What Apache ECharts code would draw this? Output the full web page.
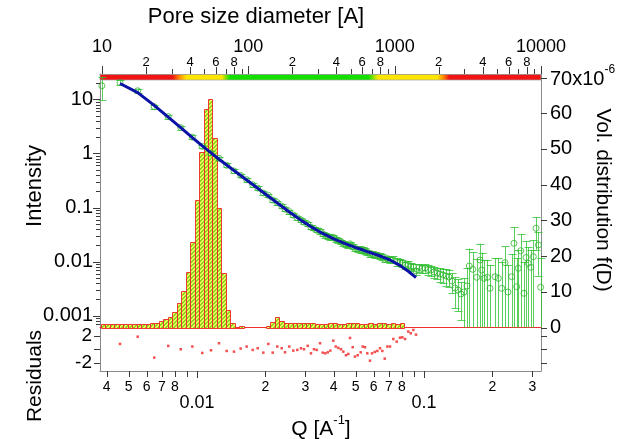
<!DOCTYPE html>
<html><head><meta charset="utf-8">
<script src="https://cdn.jsdelivr.net/npm/echarts@6/dist/echarts.min.js"></script>
<style>html,body{margin:0;padding:0;background:#fff}#c{width:617px;height:439px}</style>
</head><body><div id="c"></div>
<script>
// ---------------- data ----------------
// Q points inside the fit range [1/A]
const qFit = [0.00458,0.00548,0.00648,0.00747,0.00848,0.00954,0.01055,0.01153,0.01250,0.01351,
  0.01455,0.01557,0.01655,0.01759,0.01851,0.01960,0.02062,0.02155,0.02258,0.02361,
  0.02442,0.02550,0.02656,0.02766,0.02871,0.02960,0.03073,0.03178,0.03276,0.03367,
  0.03483,0.03579,0.03675,0.03766,0.03866,0.03985,0.04083,0.04193,0.04309,0.04411,
  0.04534,0.04640,0.04721,0.04852,0.04966,0.05104,0.05261,0.05370,0.05497,0.05626,
  0.05782,0.05901,0.06066,0.06228,0.06401,0.06551,0.06714,0.06893,0.07084,0.07325,
  0.07581,0.07841,0.08025,0.08248,0.08528,0.08739,0.08974,0.09222];
// model intensity (blue line)
const iFit = [19.60,13.30,7.714,4.688,2.999,1.967,1.382,1.026,0.781,0.6105,
  0.4830,0.3904,0.3224,0.2662,0.2264,0.1894,0.1618,0.1405,0.1211,0.1052,
  0.0947,0.0826,0.0733,0.0651,0.0582,0.0537,0.0485,0.0442,0.0411,0.0384,
  0.0352,0.0333,0.0314,0.0299,0.0284,0.0267,0.0256,0.0243,0.0231,0.02226,
  0.02124,0.02044,0.01984,0.01910,0.01838,0.01769,0.01695,0.01646,0.01584,0.01530,
  0.01473,0.01430,0.01376,0.01324,0.01269,0.01222,0.01171,0.01122,0.01071,0.00992,
  0.00915,0.00847,0.00791,0.00730,0.00662,0.00610,0.00558,0.00508];
// measured intensity inside the fit range
const iMeasFit = [20.3,14.4,7.33,4.79,3.00,2.00,1.35,1.017,0.812,0.603,
  0.475,0.392,0.328,0.264,0.2285,0.185,0.1675,0.1377,0.1233,0.1062,
  0.0931,0.0840,0.0725,0.0647,0.0587,0.0537,0.0495,0.0431,0.0411,0.0382,
  0.0366,0.0327,0.0306,0.0294,0.0281,0.0282,0.0261,0.0245,0.0231,0.0219,
  0.0205,0.0199,0.0213,0.0193,0.0175,0.0170,0.0166,0.0167,0.0160,0.0149,
  0.0137,0.0139,0.0135,0.0131,0.0127,0.0121,0.0110,0.0114,0.0109,0.0109,
  0.00995,0.0098,0.00934,0.00851,0.00884,0.0081,0.0080,0.0067];
const errPctFit = [10,10,8,8,8,8,8,8,8,8, 8,8,8,8,8,8,8,8,8,8, 8,8,8,8,8,8,8,8,8,8,
  10,10,10,10,10,10,10,10,10,10, 10,10,10,10,10,12,12,12,12,12, 12,12,12,12,12,12,12,12,12,15, 15,15,15,15,15,15,15,15];
// points outside the fit range
const qLow = [0.00381];
const iLow = [17.8];
const errPctLow = [46];
const qHigh = [0.0951,0.0980,0.1010,0.1041,0.1073,0.1107,0.1141,0.1176,0.1212,0.1250,
  0.1288,0.1328,0.1369,0.1411,0.1455,0.1500,0.1546,
  0.1583,0.1639,0.1707,0.1765,0.1795,0.1837,0.1901,0.1953,0.2055,0.2125,
  0.2199,0.2274,0.2344,0.2433,0.2491,0.2560,0.2602,0.2667,0.2758,0.2814,
  0.2881,0.2951,0.3030,0.3113,0.3193,0.3265];
const iHigh = [0.00778,0.00745,0.00762,0.00715,0.00700,0.00643,0.00616,0.00590,0.00565,0.00542,
  0.00519,0.00438,0.00325,0.00299,0.00252,0.00274,0.00354,
  0.00830,0.00721,0.00513,0.01071,0.00700,0.00491,0.00513,0.00321,0.00526,0.00491,
  0.00321,0.00955,0.00274,0.00526,0.02178,0.00344,0.00752,0.01590,0.00259,0.01191,
  0.00931,0.00785,0.01233,0.0413,0.02028,0.00335];
const errPctHigh = [16,16,18,21,21,23,24,29,28,35,35,41,58,60,67,80,116,
  110,105,120,100,110,115,110,168,122,138,206,100,215,163,100,238,118,100,278,100,
  100,108,100,60,73,248];
// normalized residuals (fit range)
const residuals = [0.78,1.85,-1.23,0.49,0,0.4,-0.54,-0.15,0.88,-0.25,
  -0.35,0.1,0.4,-0.1,0.15,-0.5,0.78,-0.5,0.4,0.15,
  -0.45,0.4,-0.2,-0.1,0.15,0,0.5,-0.6,0,-0.1,
  0.88,-0.5,-0.6,-0.45,-0.2,1.26,0.4,0.2,0,-0.35,
  -0.88,-0.69,1.66,0.3,-1.08,-0.88,-0.45,0.4,0.3,-0.6,
  -1.68,-0.6,-0.4,-0.25,0.15,-0.25,-1.38,0.4,0.4,1.51,
  1.12,1.7,1.76,1.51,2.6,2.35,2.84,2.15];
// size distribution: bin centres (pore diameter, A) and volume distribution (x1e-6)
const poreD = [10.19,10.93,11.73,12.58,13.50,14.48,15.53,16.66,17.87,19.16,
  20.56,22.05,23.65,25.37,27.21,29.19,31.31,33.58,36.02,38.64,
  41.44,44.45,47.69,51.15,54.86,58.85,63.12,67.71,72.62,77.90,
  83.56,89.63,96.13,103.1,110.6,118.6,127.3,136.5,146.4,157.1,
  168.5,180.7,193.8,207.9,223.0,239.2,256.6,275.2,295.2,316.6,
  339.6,364.3,390.8,419.1,449.6,482.3,517.3,554.9,595.2,638.4,
  684.8,734.5,787.9,845.1,906.5,972.3,1043,1119];
const volDist = [0.9,0.9,0.9,0.9,0.9,0.9,0.9,0.9,1.0,1.0,
  1.0,1.2,1.3,1.9,2.3,3.0,4.4,6.8,10.3,15.6,
  24.0,35.7,49.2,61.1,64.0,53.0,33.4,15.3,4.9,1.35,
  0.15,0.4,0,0,0,0,0,0.4,1.6,2.85,
  1.9,1.2,1.35,1.35,1.2,1.2,1.35,1.2,1.0,1.0,
  1.0,1.35,1.2,1.0,1.0,1.35,1.4,1.2,1.1,1.0,
  1.35,1.0,1.2,1.4,0.9,1.2,0.9,1.35];
// validity band along pore size axis (colour change positions, A)
const bandD = [30.5,34,38,66,75,660,770,1950,2140,2350];

// tick values and labels
const qMajorTicks = [0.01,0.1], qMajorLabels = ['0.01','0.1'];
const qMinorTicks = [0.004,0.005,0.006,0.007,0.008,0.009,0.02,0.03,0.04,0.05,0.06,0.07,0.08,0.09,0.2,0.3];
const qMinorLabels = ['4','5','6','7','8','','2','3','4','5','6','7','8','','2','3'];
const dMajorTicks = [10,100,1000,10000], dMajorLabels = ['10','100','1000','10000'];
const dMinorTicks = [20,30,40,50,60,70,80,90,200,300,400,500,600,700,800,900,2000,3000,4000,5000,6000,7000,8000,9000];
const dMinorLabels = ['2','','4','','6','','8','','2','','4','','6','','8','','2','','4','','6','','8',''];
const iMajorTicks = [0.001,0.01,0.1,1,10], iMajorLabels = ['0.001','0.01','0.1','1','10'];
const iMinorTicks = [0.0007,0.0008,0.0009,0.002,0.003,0.004,0.005,0.006,0.007,0.008,0.009,
  0.02,0.03,0.04,0.05,0.06,0.07,0.08,0.09,0.2,0.3,0.4,0.5,0.6,0.7,0.8,0.9,
  2,3,4,5,6,7,8,9,20];
const volTicks = [0,10,20,30,40,50,60,70], volLabels = ['0','10','20','30','40','50','60','70x10'];
const volExp = '-6';
const resTicks = [-2,0,2], resLabels = ['-2','','2'];

// axis ranges
const Q_MIN = 0.003739, Q_MAX = 0.3276;
const D_MIN = 9.69, D_MAX = 10000;
const I_MIN = 0.000605, I_MAX = 29.4;
const V_MAX = 71;
const R_MIN = -3.2, R_MAX = 3.2;

// ---------------- drawing ----------------
const FONT = "'Liberation Sans', Arial, Helvetica, sans-serif";
const AXIS = '#8a8a8a', TICK = '#3a3a3a';

function makeHatch() {
  const n = 4, c = document.createElement('canvas');
  c.width = n; c.height = n;
  const ctx = c.getContext('2d'), img = ctx.createImageData(n, n);
  for (let y = 0; y < n; y++) for (let x = 0; x < n; x++) {
    const g = ((x + y) % n) < 2, k = (y * n + x) * 4;
    const col = g ? [140, 212, 30] : [236, 250, 96];
    img.data[k] = col[0]; img.data[k + 1] = col[1]; img.data[k + 2] = col[2]; img.data[k + 3] = 255;
  }
  ctx.putImageData(img, 0, 0);
  return c;
}
const hatch = { image: makeHatch(), repeat: 'repeat' };

function tickSeries(o) {
  const vals = o.major.concat(o.minor);
  const labs = o.majorLabels.concat(o.minorLabels);
  const isMaj = o.major.map(() => true).concat(o.minor.map(() => false));
  return {
    type: 'custom', xAxisIndex: o.xi, yAxisIndex: o.yi, silent: true, z: 20, clip: false,
    data: vals.map(v => o.orient === 'h' ? [v, o.ref] : [o.ref, v]),
    renderItem(params, api) {
      const cs = params.coordSys, i = params.dataIndex;
      const lab = labs[i] || '', major = isMaj[i];
      const pt = api.coord([api.value(0), api.value(1)]);
      const len = major ? o.majorLen : (lab ? o.labLen : o.minorLen);
      const ch = [];
      if (o.orient === 'h') {
        const x = Math.round(pt[0]) + 0.5;
        const base = o.side === 'top' ? cs.y : cs.y + cs.height;
        const dir = o.side === 'top' ? -1 : 1;
        ch.push({ type: 'line', shape: { x1: x, y1: base, x2: x, y2: base + dir * len }, style: { stroke: TICK, lineWidth: 1 } });
        if (lab) ch.push({ type: 'text', style: {
          text: lab, x: pt[0], y: base + dir * (major ? o.majorOff : o.minorOff),
          align: 'center', verticalAlign: 'middle',
          fontSize: major ? o.majorSize : o.minorSize, fontFamily: FONT, fill: '#000' } });
      } else {
        const y = Math.round(pt[1]) + 0.5;
        const left = o.side === 'left';
        const base = left ? cs.x : cs.x + cs.width;
        const dir = left ? -1 : 1;
        ch.push({ type: 'line', shape: { x1: base, y1: y, x2: base + dir * len, y2: y }, style: { stroke: TICK, lineWidth: 1 } });
        if (lab) {
          const st = { text: lab, x: base + dir * o.labelOff, y: pt[1],
            align: left ? 'right' : 'left', verticalAlign: 'middle',
            fontSize: o.labelSize, fontFamily: FONT, fill: '#000' };
          if (o.richLast && i === o.major.length - 1) {
            st.text = '{n|' + lab + '}{s|' + o.richLast + '}';
            st.rich = { n: { fontSize: o.labelSize, fontFamily: FONT, fill: '#000', verticalAlign: 'bottom', lineHeight: 26 },
                        s: { fontSize: 12, fontFamily: FONT, fill: '#000', verticalAlign: 'top', lineHeight: 26 } };
            st.y = pt[1] - 1;
          }
          ch.push({ type: 'text', style: st });
        }
      }
      return { type: 'group', children: ch };
    }
  };
}

const qData = qLow.concat(qFit, qHigh);
const iData = iLow.concat(iMeasFit, iHigh);
const errPct = errPctLow.concat(errPctFit, errPctHigh);

const hiddenTicks = { axisTick: { show: false }, axisLabel: { show: false }, splitLine: { show: false } };
const option = {
  animation: false,
  backgroundColor: '#fff',
  grid: [
    { left: 100, top: 74, width: 441, height: 253.5 },
    { left: 100, top: 327.5, width: 441, height: 43.5 }
  ],
  xAxis: [
    Object.assign({ gridIndex: 0, type: 'log', logBase: 10, min: Q_MIN, max: Q_MAX, position: 'bottom',
      axisLine: { show: true, onZero: false, lineStyle: { color: '#ee3030', width: 1 } } }, hiddenTicks),
    Object.assign({ gridIndex: 0, type: 'log', logBase: 10, min: D_MIN, max: D_MAX, position: 'top',
      axisLine: { show: true, onZero: false, lineStyle: { color: AXIS } } }, hiddenTicks),
    Object.assign({ gridIndex: 1, type: 'log', logBase: 10, min: Q_MIN, max: Q_MAX, position: 'bottom',
      axisLine: { show: true, onZero: false, lineStyle: { color: AXIS } } }, hiddenTicks)
  ],
  yAxis: [
    Object.assign({ gridIndex: 0, type: 'log', logBase: 10, min: I_MIN, max: I_MAX, position: 'left',
      axisLine: { show: true, onZero: false, lineStyle: { color: AXIS } } }, hiddenTicks),
    Object.assign({ gridIndex: 0, type: 'value', min: 0, max: V_MAX, position: 'right',
      axisLine: { show: true, onZero: false, lineStyle: { color: AXIS } } }, hiddenTicks),
    Object.assign({ gridIndex: 1, type: 'value', min: R_MIN, max: R_MAX, position: 'left',
      axisLine: { show: true, onZero: false, lineStyle: { color: AXIS } } }, hiddenTicks),
    Object.assign({ gridIndex: 1, type: 'value', min: R_MIN, max: R_MAX, position: 'right',
      axisLine: { show: true, onZero: false, lineStyle: { color: AXIS } } }, hiddenTicks)
  ],
  graphic: [
    { type: 'text', x: 256, y: 17, style: { text: 'Pore size diameter [A]', fontSize: 22, fontFamily: FONT, fill: '#000', align: 'center', verticalAlign: 'middle' } },
    { type: 'text', x: 35, y: 186, rotation: Math.PI / 2, style: { text: 'Intensity', fontSize: 22, fontFamily: FONT, fill: '#000', align: 'center', verticalAlign: 'middle' } },
    { type: 'text', x: 35, y: 376, rotation: Math.PI / 2, style: { text: 'Residuals', fontSize: 21, fontFamily: FONT, fill: '#000', align: 'center', verticalAlign: 'middle' } },
    { type: 'text', x: 603, y: 200, rotation: -Math.PI / 2, style: { text: 'Vol. distribution f(D)', fontSize: 21, fontFamily: FONT, fill: '#000', align: 'center', verticalAlign: 'middle' } },
    { type: 'text', x: 321, y: 427, style: { text: '{a|Q [A}{b|-1}{a|]}', align: 'center', verticalAlign: 'middle',
      rich: { a: { fontSize: 21, fontFamily: FONT, fill: '#000', verticalAlign: 'bottom', lineHeight: 26 },
              b: { fontSize: 13, fontFamily: FONT, fill: '#000', verticalAlign: 'top', lineHeight: 26 } } } }
  ],
  series: [
    // size distribution histogram
    { type: 'custom', name: 'volDist', xAxisIndex: 1, yAxisIndex: 1, z: 2, clip: false,
      data: poreD.map((d, i) => [d, volDist[i]]),
      renderItem(params, api) {
        const i = params.dataIndex, n = poreD.length;
        const d = api.value(0), v = api.value(1);
        if (!(v > 0)) return null;
        const lo = i > 0 ? Math.sqrt(poreD[i - 1] * d) : d / Math.sqrt(poreD[1] / poreD[0]);
        const hi = i < n - 1 ? Math.sqrt(d * poreD[i + 1]) : d * Math.sqrt(d / poreD[n - 2]);
        const x0 = api.coord([lo, 0])[0], x1 = api.coord([hi, 0])[0];
        const y0 = api.coord([d, 0])[1], y1 = api.coord([d, v])[1];
        return { type: 'rect', shape: { x: Math.round(x0) + 0.5, y: Math.round(y1) + 0.5, width: Math.round(x1) - Math.round(x0), height: Math.round(y0) - Math.round(y1) },
          style: { fill: hatch, stroke: 'rgba(240,40,40,0.92)', lineWidth: 1 } };
      } },
    // validity band
    { type: 'custom', name: 'band', xAxisIndex: 1, yAxisIndex: 1, z: 3, clip: false,
      data: [[bandD[0], 0]],
      renderItem(params, api) {
        const cs = params.coordSys;
        const cols = ['#f01414', '#ff8a00', '#ffe600', '#ffe600', '#14e000', '#14e000', '#ffe600', '#ffe600', '#ff8a00', '#f01414'];
        const stops = bandD.map((d, k) => ({ offset: Math.min(1, Math.max(0, (api.coord([d, 0])[0] - cs.x) / cs.width)), color: cols[k] }));
        return { type: 'rect', shape: { x: cs.x, y: cs.y + 0.5, width: cs.width, height: 5.5 },
          style: { fill: new echarts.graphic.LinearGradient(0, 0, 1, 0, stops), stroke: 'rgba(160,160,160,0.7)', lineWidth: 1 } };
      } },
    // error bars
    { type: 'custom', name: 'errors', xAxisIndex: 0, yAxisIndex: 0, z: 4, clip: false,
      data: qData.map((q, i) => [q, iData[i], iData[i] * errPct[i] / 100]),
      renderItem(params, api) {
        const cs = params.coordSys;
        const q = api.value(0), I = api.value(1), e = api.value(2);
        const x = Math.round(api.coord([q, I])[0]) + 0.5;
        const yHi = api.coord([q, Math.min(I + e, I_MAX)])[1];
        let capLo = true, yLo;
        if (I - e > I_MIN) yLo = api.coord([q, I - e])[1]; else { yLo = cs.y + cs.height; capLo = false; }
        const st = { stroke: 'rgba(50,195,50,0.8)', lineWidth: 1 };
        const ch = [{ type: 'line', shape: { x1: x, y1: yHi, x2: x, y2: yLo }, style: st },
                    { type: 'line', shape: { x1: x - 4, y1: Math.round(yHi) + 0.5, x2: x + 4, y2: Math.round(yHi) + 0.5 }, style: st }];
        if (capLo) ch.push({ type: 'line', shape: { x1: x - 4, y1: Math.round(yLo) + 0.5, x2: x + 4, y2: Math.round(yLo) + 0.5 }, style: st });
        return { type: 'group', children: ch };
      } },
    // measured points
    { type: 'scatter', name: 'data', xAxisIndex: 0, yAxisIndex: 0, z: 5,
      data: qData.map((q, i) => [q, iData[i]]), symbol: 'circle', symbolSize: 6,
      itemStyle: { color: 'rgba(255,255,255,0)', borderColor: '#2fb52f', borderWidth: 1 } },
    // model
    { type: 'line', name: 'fit', xAxisIndex: 0, yAxisIndex: 0, z: 6,
      data: qFit.map((q, i) => [q, iFit[i]]), showSymbol: false, symbol: 'none',
      lineStyle: { color: '#0b12a6', width: 3 } },
    // residuals
    { type: 'scatter', name: 'residuals', xAxisIndex: 2, yAxisIndex: 2, z: 5,
      data: qFit.map((q, i) => [q, residuals[i]]), symbol: 'rect', symbolSize: 2.5,
      itemStyle: { color: '#f02020' } },
    // ticks and tick labels
    tickSeries({ orient: 'h', side: 'bottom', xi: 2, yi: 2, ref: 0, major: qMajorTicks, majorLabels: qMajorLabels,
      minor: qMinorTicks, minorLabels: qMinorLabels, majorLen: 7, labLen: 6, minorLen: 6,
      majorOff: 32, minorOff: 16, majorSize: 18, minorSize: 14 }),
    tickSeries({ orient: 'h', side: 'top', xi: 1, yi: 1, ref: 10, major: dMajorTicks, majorLabels: dMajorLabels,
      minor: dMinorTicks, minorLabels: dMinorLabels, majorLen: 8, labLen: 7, minorLen: 5,
      majorOff: 27, minorOff: 12, majorSize: 18, minorSize: 13 }),
    tickSeries({ orient: 'v', side: 'left', xi: 0, yi: 0, ref: 0.01, major: iMajorTicks, majorLabels: iMajorLabels,
      minor: iMinorTicks, minorLabels: [], majorLen: 7, labLen: 4, minorLen: 4, labelOff: 7, labelSize: 20 }),
    tickSeries({ orient: 'v', side: 'right', xi: 0, yi: 1, ref: 0.01, major: volTicks, majorLabels: volLabels,
      minor: [], minorLabels: [], majorLen: 6, labLen: 6, minorLen: 6, labelOff: 9, labelSize: 20, richLast: volExp }),
    tickSeries({ orient: 'v', side: 'left', xi: 2, yi: 2, ref: 0.01, major: resTicks, majorLabels: resLabels,
      minor: [], minorLabels: [], majorLen: 6, labLen: 6, minorLen: 6, labelOff: 8, labelSize: 19 }),
    tickSeries({ orient: 'v', side: 'right', xi: 2, yi: 3, ref: 0.01, major: resTicks, majorLabels: ['', '', ''],
      minor: [], minorLabels: [], majorLen: 6, labLen: 6, minorLen: 6, labelOff: 8, labelSize: 19 })
  ]
};

const chart = echarts.init(document.getElementById('c'), null, { renderer: 'canvas', width: 617, height: 439 });
chart.setOption(option);
</script>
</body></html>
